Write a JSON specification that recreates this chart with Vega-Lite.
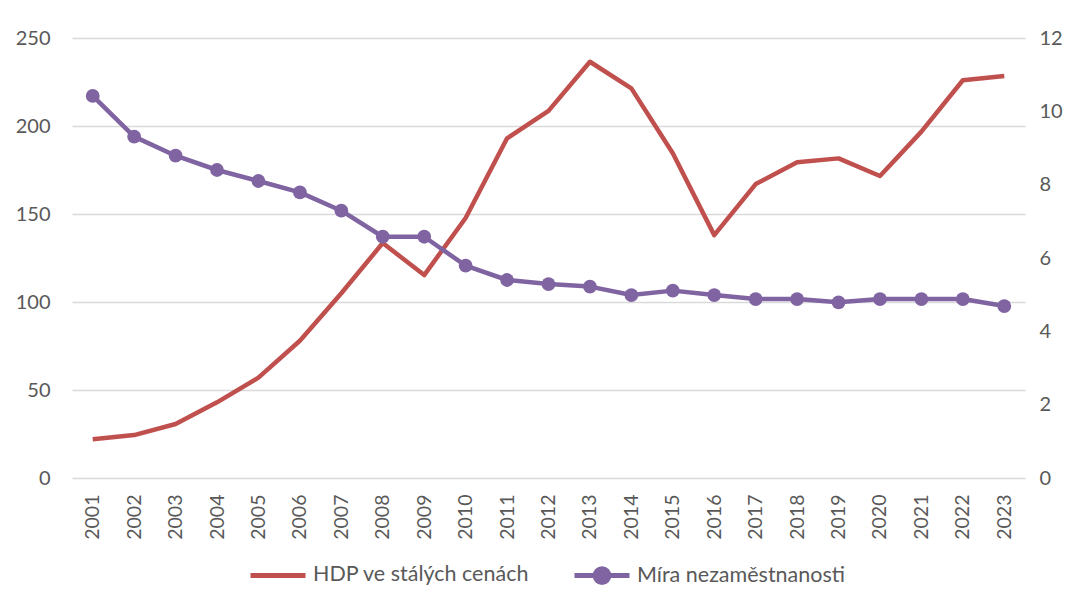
{
  "$schema": "https://vega.github.io/schema/vega-lite/v6.json",
  "width": 953,
  "height": 440,
  "autosize": "none",
  "padding": {"left": 72, "top": 38, "right": 42, "bottom": 123},
  "background": "white",
  "config": {
    "view": {"stroke": null},
    "font": "Lato",
    "axis": {"labelColor": "#595959", "labelFont": "Lato", "labelFontSize": 20, "ticks": false, "domain": false, "gridColor": "#D9D9D9", "gridWidth": 1.5},
    "legend": {"labelColor": "#595959", "labelFont": "Lato", "labelFontSize": 21.5, "labelLimit": 0}
  },
  "data": {
    "values": [
      {"year": "2001", "hdp": 22, "mira": 10.42},
      {"year": "2002", "hdp": 24.4, "mira": 9.31},
      {"year": "2003", "hdp": 30.7, "mira": 8.79},
      {"year": "2004", "hdp": 43, "mira": 8.4},
      {"year": "2005", "hdp": 57, "mira": 8.1},
      {"year": "2006", "hdp": 78, "mira": 7.79},
      {"year": "2007", "hdp": 105, "mira": 7.29},
      {"year": "2008", "hdp": 133.5, "mira": 6.58},
      {"year": "2009", "hdp": 115.3, "mira": 6.58},
      {"year": "2010", "hdp": 147.7, "mira": 5.79},
      {"year": "2011", "hdp": 193, "mira": 5.4},
      {"year": "2012", "hdp": 208.6, "mira": 5.29},
      {"year": "2013", "hdp": 236.5, "mira": 5.22},
      {"year": "2014", "hdp": 221.4, "mira": 4.99},
      {"year": "2015", "hdp": 184.5, "mira": 5.11},
      {"year": "2016", "hdp": 138, "mira": 4.99},
      {"year": "2017", "hdp": 167, "mira": 4.88},
      {"year": "2018", "hdp": 179.4, "mira": 4.88},
      {"year": "2019", "hdp": 181.6, "mira": 4.79},
      {"year": "2020", "hdp": 171.6, "mira": 4.88},
      {"year": "2021", "hdp": 196.8, "mira": 4.88},
      {"year": "2022", "hdp": 226, "mira": 4.88},
      {"year": "2023", "hdp": 228.4, "mira": 4.69}
    ]
  },
  "encoding": {
    "x": {
      "field": "year", "type": "ordinal", "title": null,
      "scale": {"type": "point", "padding": 0.5},
      "axis": {"labelAngle": -90, "labelPadding": 16, "labelFontSize": 19.5, "grid": false}
    }
  },
  "layer": [
    {
      "mark": {"type": "line", "strokeWidth": 4.5, "strokeJoin": "round"},
      "encoding": {
        "y": {"field": "hdp", "type": "quantitative", "title": null,
          "scale": {"domain": [0, 250]},
          "axis": {"values": [0, 50, 100, 150, 200, 250], "labelPadding": 22, "grid": true}},
        "color": {
          "datum": "HDP ve stálých cenách",
          "type": "nominal",
          "scale": {"domain": ["HDP ve stálých cenách", "Míra nezaměstnanosti"], "range": ["#C0504D", "#8064A2"]},
          "legend": {
            "title": null, "orient": "none", "legendX": 176, "legendY": 507, "direction": "horizontal",
            "symbolSize": 3025, "symbolStrokeWidth": 5, "columnPadding": 34, "labelOffset": 5,
            "encode": {
              "symbols": {
                "update": {
                  "shape": {"signal": "datum.value === 'HDP ve stálých cenách' ? 'M0,-0.26M0,0.26M-1,0H1' : 'M-1,0H1M-0.25,0A0.25,0.25,0,1,1,0.25,0A0.25,0.25,0,1,1,-0.25,0'"},
                  "fill": {"signal": "datum.value === 'HDP ve stálých cenách' ? 'transparent' : '#8064A2'"}
                }
              }
            }
          }
        }
      }
    },
    {
      "mark": {"type": "line", "strokeWidth": 4.5, "strokeJoin": "round", "point": {"filled": true, "size": 190, "opacity": 1}},
      "encoding": {
        "y": {"field": "mira", "type": "quantitative", "title": null,
          "scale": {"domain": [0, 12]},
          "axis": {"orient": "right", "values": [0, 2, 4, 6, 8, 10, 12], "labelPadding": 14, "grid": false}},
        "color": {"datum": "Míra nezaměstnanosti", "type": "nominal"}
      }
    }
  ],
  "resolve": {"scale": {"y": "independent"}}
}
